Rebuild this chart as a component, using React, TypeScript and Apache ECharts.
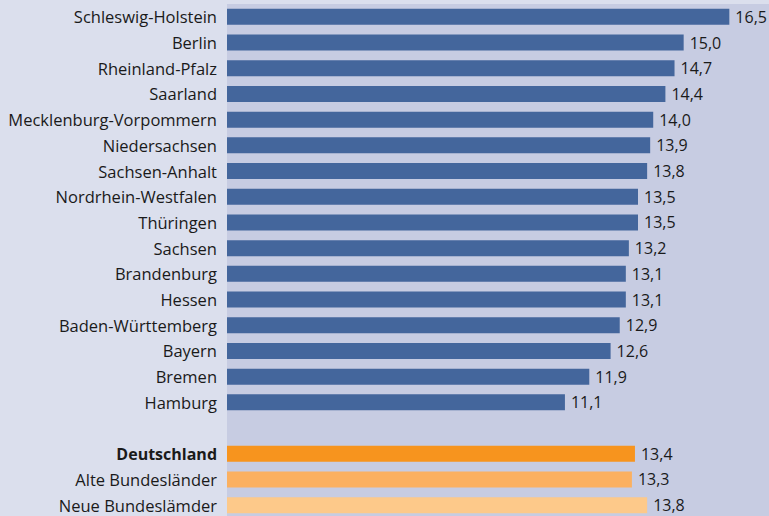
import React, { useEffect, useRef } from "react";
import * as echarts from "echarts";

const categories = [
  "Schleswig-Holstein",
  "Berlin",
  "Rheinland-Pfalz",
  "Saarland",
  "Mecklenburg-Vorpommern",
  "Niedersachsen",
  "Sachsen-Anhalt",
  "Nordrhein-Westfalen",
  "Thüringen",
  "Sachsen",
  "Brandenburg",
  "Hessen",
  "Baden-Württemberg",
  "Bayern",
  "Bremen",
  "Hamburg",
  "",
  "Deutschland",
  "Alte Bundesländer",
  "Neue Bundeslämder",
];

const values: (number | null)[] = [
  16.5, 15.0, 14.7, 14.4, 14.0, 13.9, 13.8, 13.5, 13.5, 13.2, 13.1, 13.1, 12.9, 12.6, 11.9, 11.1,
  null,
  13.4, 13.3, 13.8,
];

const barColors = [
  ...Array(16).fill("#44669c"),
  "#44669c",
  "#f7941e",
  "#fbb060",
  "#fdc98a",
];

export default function App() {
  const ref = useRef<HTMLDivElement>(null);
  useEffect(() => {
    if (!ref.current) return;
    const chart = echarts.init(ref.current, null, { renderer: "svg" });
    const font = "'Open Sans', sans-serif";
    chart.setOption({
      animation: false,
      backgroundColor: "#dbdfed",
      grid: {
        left: 227,
        top: 4,
        width: 548,
        height: 514,
        show: true,
        backgroundColor: "#c7cce2",
        borderWidth: 0,
        containLabel: false,
      },
      xAxis: {
        type: "value",
        min: 0,
        max: 18,
        show: false,
      },
      yAxis: {
        type: "category",
        data: categories,
        inverse: true,
        axisLine: { show: false },
        axisTick: { show: false },
        splitLine: { show: false },
        axisLabel: {
          margin: 10,
          color: "#1a1a1a",
          fontFamily: font,
          fontSize: 16.5,
          formatter: (v: string) => (v === "Deutschland" ? "{b|" + v + "}" : v),
          rich: {
            b: { fontWeight: "bold", fontFamily: font, fontSize: 16, color: "#1a1a1a" },
          },
        },
      },
      series: [
        {
          type: "bar",
          barWidth: 16,
          data: values.map((v, i) => ({
            value: v,
            itemStyle: { color: barColors[i] },
          })),
          label: {
            show: true,
            position: "right",
            distance: 6,
            color: "#1a1a1a",
            fontFamily: font,
            fontSize: 16,
            formatter: (p: any) =>
              p.value == null ? "" : Number(p.value).toFixed(1).replace(".", ","),
          },
        },
      ],
    });
    return () => chart.dispose();
  }, []);
  return (
    <div
      ref={ref}
      style={{ position: "fixed", left: 0, top: 0, width: 780, height: 520 }}
    />
  );
}
